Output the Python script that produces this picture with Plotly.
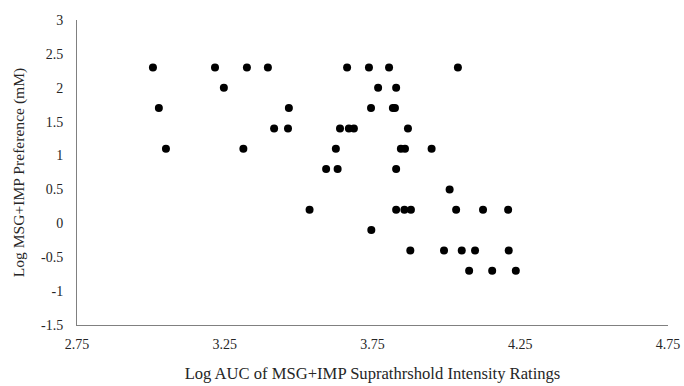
import plotly.graph_objects as go

# Data
log_auc = [
    3.007, 3.217, 3.325, 3.396, 3.664, 3.738, 3.806, 4.039,   # y 2.3
    3.247, 3.769, 3.830,                                      # y 2.0
    3.027, 3.467, 3.745, 3.819, 3.826,                        # y 1.7
    3.417, 3.464, 3.640, 3.670, 3.687, 3.870,                 # y 1.4
    3.051, 3.313, 3.626, 3.846, 3.860, 3.950,                 # y 1.1
    3.593, 3.632, 3.830,                                      # y 0.8
    4.011,                                                    # y 0.5
    3.537, 3.830, 3.858, 3.880, 4.033, 4.124, 4.209,          # y 0.2
    3.746,                                                    # y -0.1
    3.878, 3.992, 4.052, 4.097, 4.211,                        # y -0.4
    4.077, 4.155, 4.235,                                      # y -0.7
]
log_pref = (
    [2.3] * 8 + [2.0] * 3 + [1.7] * 5 + [1.4] * 6 + [1.1] * 6 +
    [0.8] * 3 + [0.5] * 1 + [0.2] * 7 + [-0.1] * 1 + [-0.4] * 5 + [-0.7] * 3
)

x_ticks = [2.75, 3.25, 3.75, 4.25, 4.75]
x_tick_text = ["2.75", "3.25", "3.75", "4.25", "4.75"]
y_ticks = [3, 2.5, 2, 1.5, 1, 0.5, 0, -0.5, -1, -1.5]
y_tick_text = ["3", "2.5", "2", "1.5", "1", "0.5", "0", "-0.5", "-1", "-1.5"]

x_title = "Log AUC of MSG+IMP Suprathrshold Intensity Ratings"
y_title = "Log MSG+IMP Preference (mM)"

text_color = "#262626"
tick_font = dict(family="Liberation Serif", size=14, color=text_color)
x_title_font = dict(family="Liberation Serif", size=16.6, color=text_color)
y_title_font = dict(family="Liberation Serif", size=15.6, color=text_color)

fig = go.Figure()
fig.add_trace(go.Scatter(
    x=log_auc, y=log_pref, mode="markers",
    marker=dict(color="black", size=8),
    showlegend=False,
))

fig.update_layout(
    width=684, height=386,
    margin=dict(l=77, r=16, t=20, b=61),
    paper_bgcolor="white", plot_bgcolor="white",
    font=tick_font,
    xaxis=dict(
        range=[2.75, 4.75], tickmode="array", tickvals=x_ticks, ticktext=x_tick_text,
        showgrid=False, zeroline=False, showline=True, linecolor="#808080", linewidth=1,
        ticks="", ticklabelstandoff=6, automargin=False,
        tickfont=tick_font,
        title=dict(text=x_title, standoff=16, font=x_title_font),
    ),
    yaxis=dict(
        range=[-1.5, 3], tickmode="array", tickvals=y_ticks, ticktext=y_tick_text,
        showgrid=False, zeroline=False, showline=True, linecolor="#808080", linewidth=1,
        ticks="", ticklabelstandoff=10, automargin=False,
        tickfont=tick_font,
        title=dict(text=y_title, standoff=12, font=y_title_font),
    ),
)

fig.write_html("out.html", config={"displayModeBar": False},
               post_script="document.body.style.margin='0';")
